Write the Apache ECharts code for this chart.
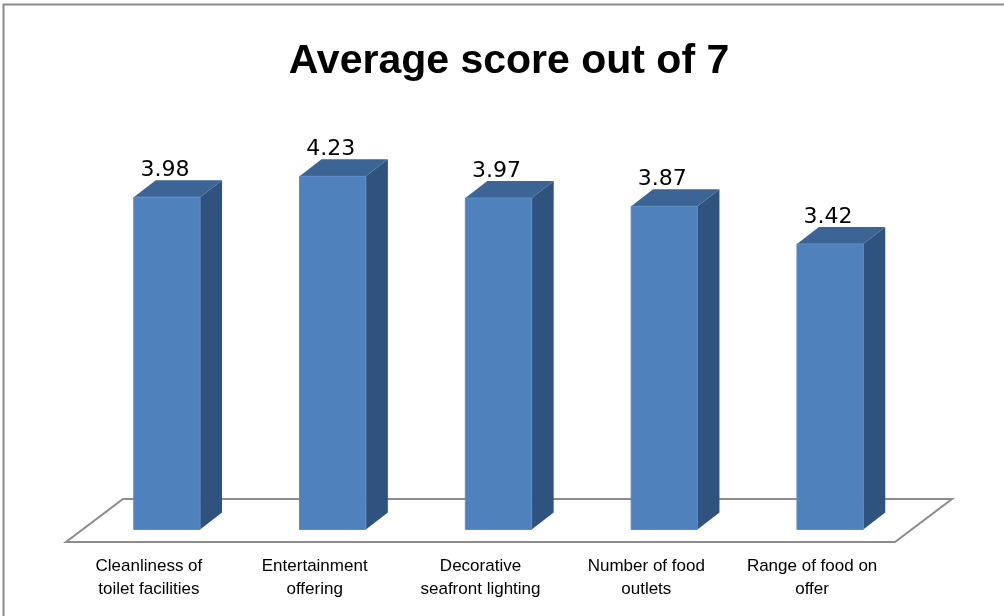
<!DOCTYPE html>
<html>
<head>
<meta charset="utf-8">
<script src="https://cdn.jsdelivr.net/npm/echarts@6/dist/echarts.min.js"></script>
<style>
html,body{margin:0;padding:0;background:#fff;}
#chart{width:1004px;height:616px;}
</style>
</head>
<body>
<div id="chart"></div>
<script>
const titleText = 'Average score out of 7';
const categories = ['Cleanliness of\ntoilet facilities', 'Entertainment\noffering', 'Decorative\nseafront lighting', 'Number of food\noutlets', 'Range of food on\noffer'];
const scores = [3.98, 4.23, 3.97, 3.87, 3.42];

const FRONT = '#4F81BD', SIDE = '#30527E', TOP = '#3C6495';
const SHIFT_X = 18, SHIFT_Y = -12.5;   // bar front offset from floor front edge
const DEPTH_X = 22, DEPTH_Y = -17;     // bar depth
const FLOOR_X = 57, FLOOR_Y = -43;     // floor depth

const chart = echarts.init(document.getElementById('chart'), null, {renderer: 'canvas'});

function renderBar(params, api) {
  const idx = api.value(0), val = api.value(1);
  const base = api.coord([idx, 0]);
  const top = api.coord([idx, val]);
  const band = api.size([1, 0])[0];
  const w = band * 0.4;
  const x0 = base[0] - w / 2 + SHIFT_X;
  const x1 = x0 + w;
  const yb = base[1] + SHIFT_Y;
  const yt = top[1] + SHIFT_Y;
  return {
    type: 'group',
    children: [
      {type: 'polygon', shape: {points: [[x1, yt], [x1 + DEPTH_X, yt + DEPTH_Y], [x1 + DEPTH_X, yb + DEPTH_Y], [x1, yb]]},
       style: {fill: SIDE}},
      {type: 'polygon', shape: {points: [[x0, yt], [x0 + DEPTH_X, yt + DEPTH_Y], [x1 + DEPTH_X, yt + DEPTH_Y], [x1, yt]]},
       style: {fill: TOP}},
      {type: 'rect', shape: {x: x0, y: yt, width: w, height: yb - yt},
       style: {fill: FRONT, stroke: '#5B8CC6', lineWidth: 1}},
      {type: 'text', x: x0 + w / 2 - 2, y: yt - 16,
       style: {text: val.toFixed(2), fill: '#000', font: '22px "DejaVu Sans"', align: 'center', verticalAlign: 'bottom'}}
    ]
  };
}

function renderFloor(params, api) {
  const cs = params.coordSys;
  const yb = cs.y + cs.height;
  const xl = cs.x, xr = cs.x + cs.width;
  return {
    type: 'polygon',
    shape: {points: [[xl, yb], [xr, yb], [xr + FLOOR_X, yb + FLOOR_Y], [xl + FLOOR_X, yb + FLOOR_Y]]},
    style: {fill: '#fff', stroke: '#8C8C8C', lineWidth: 2}
  };
}

chart.setOption({
  animation: false,
  backgroundColor: '#fff',
  title: {
    text: titleText,
    left: 504,
    textAlign: 'center',
    top: 36,
    textStyle: {fontFamily: 'Liberation Sans', fontWeight: 'bold', fontSize: 41, color: '#000'}
  },
  graphic: [{
    type: 'rect', shape: {x: 3.5, y: 4.5, width: 1010, height: 620},
    style: {fill: 'none', stroke: '#8A8A8A', lineWidth: 2}, z: 100
  }],
  grid: {left: 66, right: 1004 - 895, bottom: 74, height: 417.5, containLabel: false},
  xAxis: {
    type: 'category',
    data: categories,
    axisLine: {show: false},
    axisTick: {show: false},
    axisLabel: {margin: 13, fontFamily: 'Liberation Sans', fontSize: 17, lineHeight: 23, color: '#000', interval: 0}
  },
  yAxis: {
    type: 'value', min: 0, max: 5, show: false, splitLine: {show: false}
  },
  series: [
    {type: 'custom', renderItem: renderFloor, data: [[0]], z: 1, silent: true},
    {type: 'custom', renderItem: renderBar, data: scores.map((v, i) => [i, v]), z: 2, encode: {x: 0, y: 1}}
  ]
});
</script>
</body>
</html>
